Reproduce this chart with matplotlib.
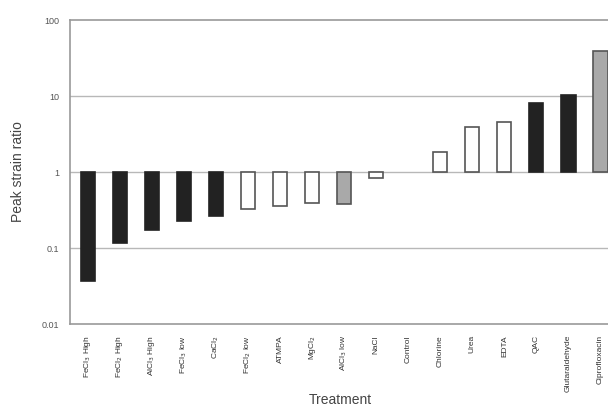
import matplotlib
matplotlib.use("Agg")
import matplotlib.pyplot as plt

categories = ["FeCl$_3$ High", "FeCl$_2$ High", "AlCl$_3$ High", "FeCl$_3$ low", "CaCl$_2$",
              "FeCl$_2$ low", "ATMPA", "MgCl$_2$", "AlCl$_3$ low", "NaCl", "Control",
              "Chlorine", "Urea", "EDTA", "QAC", "Glutaraldehyde", "Ciprofloxacin"]
values = [0.037, 0.115, 0.17, 0.226, 0.266, 0.33, 0.36, 0.39, 0.385, 0.84, 1.0,
          1.82, 3.95, 4.5, 8.0, 10.4, 39.4]
groups = ["black", "black", "black", "black", "black", "white", "white", "white", "gray",
          "white", "white", "white", "white", "white", "black", "black", "gray"]
yticks = [0.01, 0.1, 1, 10, 100]
ytick_labels = ["0.01", "0.1", "1", "10", "100"]

fill = {"black": "#222222", "white": "#ffffff", "gray": "#a9a9a9"}
edge = {"black": "#222222", "white": "#555555", "gray": "#555555"}

plt.rcParams['font.family'] = ['Liberation Sans', 'DejaVu Sans']
fig = plt.figure(figsize=(6.08, 4.09), dpi=100)
ax = fig.add_axes([0.1151, 0.2078, 0.92, 0.7433])
ax.set_yscale("log")
ax.set_ylim(0.01, 100)
ax.set_xlim(-0.56, 16.9)

for y in [0.1, 1, 10]:
    ax.axhline(y, color="#b8b8b8", lw=1.0, zorder=0)

x = list(range(len(categories)))
for i, (v, g) in enumerate(zip(values, groups)):
    if v == 1.0:
        continue
    ax.bar(i, v - 1.0, bottom=1.0, width=0.44, color=fill[g], edgecolor=edge[g],
           linewidth=1.2, zorder=2)

ax.set_yticks(yticks)
ax.set_yticklabels(ytick_labels, fontsize=6.5, color="#555555")
ax.yaxis.set_minor_locator(matplotlib.ticker.NullLocator())
ax.tick_params(axis="y", length=0, pad=8)
ax.set_xticks(x)
ax.set_xticklabels(categories, rotation=90, fontsize=6, color="#333333", va="top")
ax.tick_params(axis="x", length=0, pad=8)

for s in ["left", "top", "bottom"]:
    ax.spines[s].set_color("#999999")
    ax.spines[s].set_linewidth(1.2)
ax.spines["right"].set_visible(False)

fig.text(0.03, 0.58, "Peak strain ratio", rotation=90, fontsize=10, color="#444444",
         ha="center", va="center")
fig.text(0.559, 0.022, "Treatment", fontsize=10, color="#444444", ha="center", va="center")

fig.savefig("out.png", dpi=100)
